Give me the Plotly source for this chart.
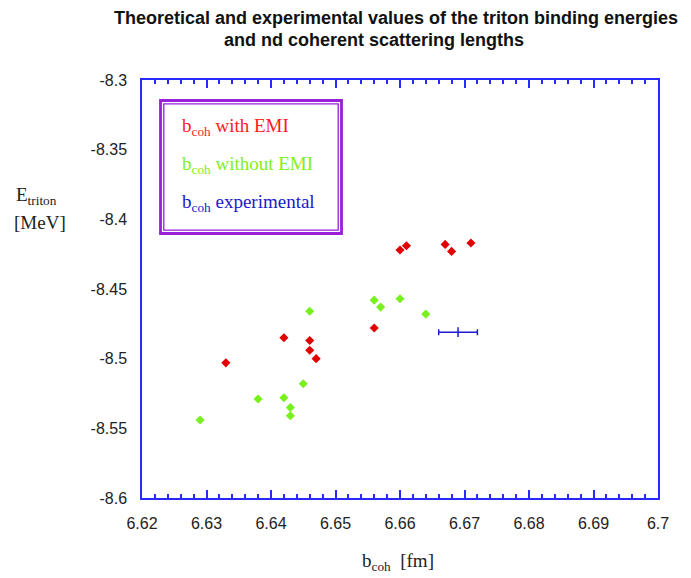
import plotly.graph_objects as go

# b_coh [fm] and triton energy [MeV], calculations including EMI
b_with_emi = [6.642, 6.646, 6.646, 6.647, 6.633, 6.660, 6.661, 6.667, 6.668, 6.671, 6.656]
e_with_emi = [-8.485, -8.487, -8.494, -8.500, -8.503, -8.422, -8.419, -8.418, -8.423, -8.417, -8.478]

# calculations without EMI
b_without_emi = [6.646, 6.645, 6.642, 6.638, 6.643, 6.643, 6.629, 6.656, 6.657, 6.660, 6.664]
e_without_emi = [-8.466, -8.518, -8.528, -8.529, -8.535, -8.541, -8.544, -8.458, -8.463, -8.457, -8.468]

# experimental value with its uncertainty in b_coh
b_exp = [6.669]
b_exp_err = [0.003]
e_exp = [-8.481]

y_tickvals = [-8.3, -8.35, -8.4, -8.45, -8.5, -8.55, -8.6]
y_ticktext = ["-8.3", "-8.35", "-8.4", "-8.45", "-8.5", "-8.55", "-8.6"]

W, H = 691, 578
L, R, T, B = 142, 33, 80, 80
PW, PH = W - L - R, H - T - B


def px(x):
    return (x - L) / PW


def py(y):
    return (H - B - y) / PH


RED = "#e00000"
GREEN = "#78f01e"
BLUE = "#1c1cd0"
AXIS = "#2a2aff"
PURPLE = "#9a1fd8"
SERIF = "Liberation Serif, Times New Roman, serif"
SANS = "Liberation Sans, Arial, sans-serif"

fig = go.Figure()
fig.add_trace(go.Scatter(
    x=b_with_emi, y=e_with_emi, mode="markers",
    marker=dict(symbol="diamond", size=7, color=RED), showlegend=False))
fig.add_trace(go.Scatter(
    x=b_without_emi, y=e_without_emi, mode="markers",
    marker=dict(symbol="diamond", size=7, color=GREEN), showlegend=False))
fig.add_trace(go.Scatter(
    x=b_exp, y=e_exp, mode="markers",
    marker=dict(symbol="line-ns-open", size=7, color=BLUE, line=dict(color=BLUE, width=1.5)),
    error_x=dict(type="data", array=b_exp_err, color=BLUE, thickness=1.5, width=3),
    showlegend=False))

fig.update_xaxes(
    range=[6.62, 6.70], tickmode="linear", tick0=6.62, dtick=0.01, tickformat=".2~f",
    ticks="inside", ticklen=8, tickwidth=1.5, tickcolor=AXIS,
    minor=dict(tickmode="linear", tick0=6.62, dtick=0.002, ticks="inside", ticklen=4,
               tickwidth=1.5, tickcolor=AXIS, showgrid=False),
    showline=True, linecolor=AXIS, linewidth=1.5, mirror="ticks",
    showgrid=False, zeroline=False,
    tickfont=dict(family=SANS, size=16, color="#222"), ticklabelstandoff=10)
fig.update_yaxes(
    range=[-8.6, -8.3], tickvals=y_tickvals, ticktext=y_ticktext,
    ticks="", showline=True, linecolor=AXIS, linewidth=1.5, mirror=True,
    showgrid=False, zeroline=False,
    tickfont=dict(family=SANS, size=16, color="#222"), ticklabelstandoff=10)

annotations = [
    dict(text="<b>Theoretical and experimental values of the triton binding energies</b>",
         x=px(396), y=py(18), font=dict(family=SANS, size=18, color="#111")),
    dict(text="<b>and nd coherent scattering lengths</b>",
         x=px(374), y=py(40), font=dict(family=SANS, size=18, color="#111")),
    dict(text="E<sub>triton</sub>", x=px(14), y=py(196), xanchor="left",
         font=dict(family=SERIF, size=19, color="#222")),
    dict(text="[MeV]", x=px(40), y=py(222),
         font=dict(family=SERIF, size=19, color="#222")),
    dict(text="b<sub>coh</sub>  [fm]", x=px(398), y=py(562),
         font=dict(family=SERIF, size=19, color="#222")),
    dict(text="b<sub>coh</sub> with EMI", x=px(180), y=py(127), xanchor="left",
         font=dict(family=SERIF, size=19, color="#ff1a1a")),
    dict(text="b<sub>coh</sub> without EMI", x=px(180), y=py(165), xanchor="left",
         font=dict(family=SERIF, size=19, color="#80f020")),
    dict(text="b<sub>coh</sub> experimental", x=px(180), y=py(203), xanchor="left",
         font=dict(family=SERIF, size=19, color="#1a1ac8")),
]
for a in annotations:
    a.setdefault("xanchor", "center")
    a.setdefault("yanchor", "middle")
    a.update(xref="paper", yref="paper", showarrow=False)

shapes = [
    dict(type="rect", x0=px(160.5), x1=px(341.5), y0=py(100.5), y1=py(233.5),
         line=dict(color=PURPLE, width=2.8)),
    dict(type="rect", x0=px(163.8), x1=px(338.2), y0=py(103.8), y1=py(230.2),
         line=dict(color=PURPLE, width=1.3)),
]
for s in shapes:
    s.update(xref="paper", yref="paper", layer="above")

fig.update_layout(
    width=W, height=H, margin=dict(l=L, r=R, t=T, b=B),
    paper_bgcolor="white", plot_bgcolor="white",
    annotations=annotations, shapes=shapes, showlegend=False)

fig.write_html("out.html")
